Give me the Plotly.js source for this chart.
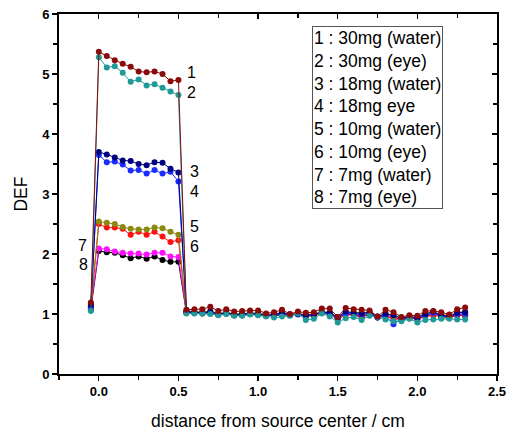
<!DOCTYPE html>
<html>
<head>
<meta charset="utf-8">
<script src="https://cdn.plot.ly/plotly-3.0.1.min.js"></script>
<style>html,body{margin:0;padding:0;background:#fff;}#chart{width:511px;height:434px;}</style>
</head>
<body>
<div id="chart"></div>
<script>
// x positions (cm)
const xVals = [-0.05,0.00,0.05,0.10,0.15,0.20,0.25,0.30,0.35,0.40,0.45,0.50,
  0.55,0.60,0.65,0.70,0.75,0.80,0.85,0.90,0.95,1.00,1.05,1.10,1.15,
  1.20,1.25,1.30,1.35,1.40,1.45,1.50,1.55,1.60,1.65,1.70,1.75,1.80,
  1.85,1.90,1.95,2.00,2.05,2.10,2.15,2.20,2.25,2.30];

const s1 = [1.19,5.37,5.30,5.23,5.17,5.12,5.04,5.03,5.04,5.00,4.88,4.90,
  1.07,1.08,1.08,1.12,1.05,1.08,1.04,1.05,1.06,1.06,1.01,1.03,1.07,
  1.00,1.04,1.02,1.03,1.09,1.09,0.95,1.10,1.08,1.07,1.06,0.96,1.07,
  1.03,0.95,0.98,0.97,1.05,1.05,1.03,0.99,1.08,1.11];
const s2 = [1.05,5.28,5.11,5.13,5.02,4.87,4.91,4.81,4.83,4.77,4.71,4.65,
  1.01,1.01,1.01,1.00,0.98,1.00,0.97,0.97,0.99,0.98,0.96,0.94,0.96,
  0.97,1.01,0.90,0.92,1.01,0.96,0.86,0.93,0.95,0.90,0.97,0.95,0.91,
  0.88,0.88,0.92,0.86,0.90,0.91,0.92,0.92,0.91,0.91];
const s3 = [1.15,3.70,3.66,3.61,3.56,3.55,3.50,3.48,3.53,3.52,3.42,3.36,
  1.04,1.03,1.02,1.04,1.00,1.02,0.99,1.00,1.01,1.00,0.98,0.99,1.02,
  0.99,1.00,0.98,0.99,1.03,1.02,0.95,1.04,1.02,1.01,1.03,0.96,1.00,
  0.98,0.93,0.95,0.94,1.00,1.04,0.98,0.96,1.02,1.03];
const s4 = [1.12,3.65,3.53,3.54,3.49,3.39,3.40,3.34,3.40,3.34,3.37,3.21,
  1.03,1.02,1.03,1.01,0.99,1.01,0.98,0.99,1.00,0.99,0.97,0.98,1.00,
  0.98,0.99,0.97,1.00,1.02,1.00,0.93,1.01,1.00,0.99,1.01,0.94,0.97,
  0.83,0.92,0.94,0.93,0.98,1.02,0.97,0.95,1.00,1.00];
const s5 = [1.17,2.54,2.52,2.50,2.45,2.42,2.41,2.41,2.44,2.43,2.37,2.32,
  1.05,1.04,1.03,1.05,1.01,1.03,1.00,1.01,1.02,1.02,0.99,1.00,1.03,
  0.99,1.01,0.99,1.00,1.04,1.03,0.94,1.03,1.03,1.02,1.02,0.95,1.01,
  0.97,0.92,0.95,0.95,1.01,1.02,0.99,0.97,1.03,1.04];
const s6 = [1.10,2.50,2.44,2.44,2.42,2.32,2.37,2.32,2.37,2.29,2.20,2.23,
  1.02,1.02,1.02,1.02,0.99,1.01,0.98,0.98,1.00,0.99,0.97,0.97,0.99,
  0.98,1.00,0.96,0.97,1.02,0.99,0.92,0.98,0.99,0.96,1.00,0.95,0.96,
  0.92,0.91,0.93,0.91,0.96,0.98,0.96,0.94,0.98,0.98];
const s7 = [1.13,2.09,2.08,2.04,2.02,2.01,2.01,1.99,2.02,2.02,1.96,1.95,
  1.03,1.03,1.02,1.03,1.00,1.02,0.99,0.99,1.01,1.00,0.98,0.98,1.01,
  0.99,1.01,0.97,0.99,1.02,1.01,0.94,1.01,1.01,0.98,1.01,0.95,0.98,
  0.94,0.92,0.94,0.93,0.98,1.00,0.97,0.95,0.99,1.00];
const s8 = [1.08,2.05,2.03,2.02,1.98,1.93,1.96,1.92,1.96,1.90,1.87,1.87,
  1.02,1.02,1.01,1.02,0.99,1.01,0.98,0.98,1.00,0.99,0.97,0.97,0.99,
  0.98,1.01,0.96,0.98,1.02,1.01,0.93,1.00,0.99,0.94,1.00,0.94,0.97,
  0.95,0.91,0.93,0.92,0.97,0.99,0.96,0.94,0.98,0.97];

const seriesNames = ["1 : 30mg (water)","2 : 30mg (eye)","3 : 18mg (water)","4 : 18mg eye",
  "5 : 10mg (water)","6 : 10mg (eye)","7 : 7mg (water)","8 : 7mg (eye)"];
const seriesData = [s1,s2,s3,s4,s5,s6,s7,s8];
const seriesColors = ["#8b0a0a","#1f9a96","#000080","#1a2cff","#8a8a10","#ff1010","#ff10ff","#000000"];

// curve labels
const labelText = ["1","2","3","4","5","6","7","8"];
const labelX = [0.585,0.585,0.60,0.60,0.60,0.60,-0.10,-0.095];
const labelY = [5.03,4.69,3.38,3.05,2.46,2.13,2.15,1.82];

const traces = [];
// draw 8..1 so that 1 and 2 end on top
for (let i = 7; i >= 0; i--) {
  traces.push({
    x: xVals, y: seriesData[i], name: seriesNames[i], type: 'scatter', mode: 'lines+markers',
    line: {color: seriesColors[i], width: 1},
    marker: {color: seriesColors[i], size: 6},
    showlegend: false, hoverinfo: 'skip'
  });
}
// mirror axes (top / right) with inward ticks
traces.push({x: [], y: [], xaxis: 'x2', yaxis: 'y2', type: 'scatter', mode: 'markers', showlegend: false});

const annotations = labelText.map((t, i) => ({
  x: labelX[i], y: labelY[i], xref: 'x', yref: 'y', text: t, showarrow: false,
  font: {family: 'Liberation Sans, Arial, sans-serif', size: 16, color: '#000'},
  xanchor: 'center', yanchor: 'middle', borderpad: 0
}));
annotations.push({
  x: 1.34, y: 5.80, xref: 'x', yref: 'y', xanchor: 'left', yanchor: 'top',
  text: seriesNames.join('<br>'), align: 'left', showarrow: false,
  font: {family: 'Liberation Sans, Arial, sans-serif', size: 17.5, color: '#000'},
  bordercolor: '#555', borderwidth: 1, borderpad: 1, bgcolor: '#fff'
});

const tickFont = {family: 'Liberation Sans, Arial, sans-serif', size: 13, color: '#000', weight: 'bold'};
const titleFont = {family: 'Liberation Sans, Arial, sans-serif', size: 17.5, color: '#000'};

const layout = {
  width: 511, height: 434,
  margin: {l: 59, r: 14, t: 14, b: 60},
  paper_bgcolor: '#fff', plot_bgcolor: '#fff',
  showlegend: false,
  xaxis: {
    range: [-0.25, 2.5], dtick: 0.5, tick0: 0, tickformat: '.1f',
    ticks: 'outside', ticklen: 5, tickwidth: 1.2, tickcolor: '#000',
    minor: {dtick: 0.25, ticks: 'outside', ticklen: 4, tickcolor: '#000', tickwidth: 1.2},
    showline: true, linecolor: '#000', linewidth: 1.8, showgrid: false, zeroline: false,
    tickfont: tickFont,
    title: {text: 'distance from source center / cm', font: titleFont, standoff: 16}
  },
  yaxis: {
    range: [0, 6], dtick: 1, tick0: 0,
    ticks: 'outside', ticklen: 5, tickwidth: 1.2, tickcolor: '#000',
    minor: {dtick: 0.5, ticks: 'outside', ticklen: 4, tickcolor: '#000', tickwidth: 1.2},
    showline: true, linecolor: '#000', linewidth: 1.8, showgrid: false, zeroline: false,
    tickfont: tickFont,
    title: {text: 'DEF', font: titleFont, standoff: 10}
  },
  xaxis2: {
    overlaying: 'x', side: 'top', anchor: 'y2', range: [-0.25, 2.5], dtick: 0.5, tick0: 0,
    ticks: 'inside', ticklen: 5, tickwidth: 1.2, tickcolor: '#000',
    minor: {dtick: 0.25, ticks: 'inside', ticklen: 4, tickcolor: '#000', tickwidth: 1.2},
    showline: true, linecolor: '#000', linewidth: 1.8, showgrid: false, zeroline: false,
    showticklabels: false
  },
  yaxis2: {
    overlaying: 'y', side: 'right', anchor: 'x2', range: [0, 6], dtick: 1, tick0: 0,
    ticks: 'inside', ticklen: 5, tickwidth: 1.2, tickcolor: '#000',
    minor: {dtick: 0.5, ticks: 'inside', ticklen: 4, tickcolor: '#000', tickwidth: 1.2},
    showline: true, linecolor: '#000', linewidth: 1.8, showgrid: false, zeroline: false,
    showticklabels: false
  },
  annotations: annotations
};

Plotly.newPlot('chart', traces, layout, {displayModeBar: false, staticPlot: true});
</script>
</body>
</html>
